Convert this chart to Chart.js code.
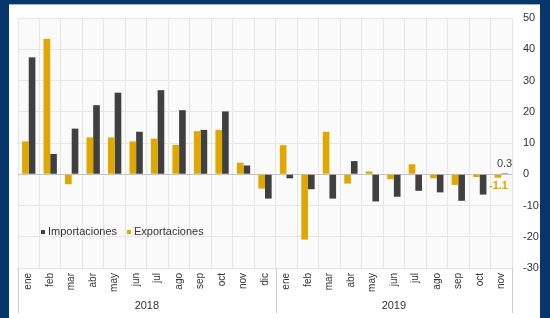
<!DOCTYPE html>
<html>
<head>
<meta charset="utf-8">
<script src="https://cdn.jsdelivr.net/npm/chart.js@4"></script>
<style>
  html, body { margin: 0; padding: 0; }
  body { width: 550px; height: 318px; background: #06366a; position: relative; overflow: hidden; }
  .panel { position: absolute; left: 9px; top: 4px; width: 531px; height: 314px; background: #fff; border-top: 1px solid #9fb3c8; box-sizing: border-box; }
  canvas { position: absolute; left: 0; top: 0; }
</style>
</head>
<body>
<div class="panel"><canvas id="chart" width="531" height="313"></canvas></div>
<script>
// --- Data ---
const months = ['ene', 'feb', 'mar', 'abr', 'may', 'jun', 'jul', 'ago', 'sep', 'oct', 'nov', 'dic',
                'ene', 'feb', 'mar', 'abr', 'may', 'jun', 'jul', 'ago', 'sep', 'oct', 'nov'];
const years = [{ label: '2018', from: 0, to: 11 }, { label: '2019', from: 12, to: 22 }];
const importaciones = [37.4, 6.5, 14.6, 22.1, 26.1, 13.6, 26.9, 20.5, 14.2, 20.1, 2.8, -7.8,
                       -1.3, -4.8, -7.8, 4.2, -8.7, -7.2, -5.3, -5.8, -8.5, -6.5, 0.3];
const exportaciones = [10.5, 43.4, -3.2, 11.8, 11.8, 10.5, 11.4, 9.4, 13.8, 14.2, 3.7, -4.6,
                       9.3, -20.9, 13.6, -3.0, 0.9, -1.6, 3.2, -1.3, -3.4, -0.9, -1.1];
const yTicks = { min: -30, max: 50, step: 10 };

const GOLD = '#dfa700';
const DARK = '#404040';
const FONT = "'Liberation Sans', Arial, sans-serif";

// plot background, legend, year row and the last-value labels
const decor = {
  id: 'decor',
  beforeDraw(chart) {
    const a = chart.chartArea, c = chart.ctx;
    c.save();
    c.fillStyle = '#fafafa';
    c.fillRect(a.left, a.top, a.right - a.left, a.bottom - a.top);
    c.restore();
  },
  afterDraw(chart) {
    const a = chart.chartArea, c = chart.ctx, x = chart.scales.x, y = chart.scales.y;
    const half = (x.getPixelForValue(1) - x.getPixelForValue(0)) / 2;
    c.save();

    // year groups below the month labels
    c.strokeStyle = '#cfcfcf';
    c.lineWidth = 1;
    const edges = [a.left, x.getPixelForValue(11) + half, a.right];
    edges.forEach(px => {
      c.beginPath();
      c.moveTo(Math.round(px) + 0.5, a.bottom);
      c.lineTo(Math.round(px) + 0.5, a.bottom + 45);
      c.stroke();
    });
    c.fillStyle = '#333';
    c.font = '11px ' + FONT;
    c.textAlign = 'center';
    c.textBaseline = 'middle';
    years.forEach(g => {
      const mid = (x.getPixelForValue(g.from) - half + x.getPixelForValue(g.to) + half) / 2;
      c.fillText(g.label, mid, a.bottom + 38);
    });

    // legend inside plot
    const ly = y.getPixelForValue(-18.5);
    const items = [
      { label: 'Importaciones', color: DARK, x: a.left + 23 },
      { label: 'Exportaciones', color: GOLD, x: a.left + 109 },
    ];
    c.font = '11px ' + FONT;
    c.textAlign = 'left';
    items.forEach(it => {
      c.fillStyle = it.color;
      c.fillRect(it.x, ly - 2, 4, 4);
      c.fillStyle = '#333';
      c.fillText(it.label, it.x + 7, ly);
    });

    // last values
    const last = months.length - 1;
    const meta0 = chart.getDatasetMeta(0).data[last];
    const meta1 = chart.getDatasetMeta(1).data[last];
    c.font = '11px ' + FONT;
    c.fillStyle = '#444';
    c.textAlign = 'center';
    c.fillText(String(importaciones[last]), meta1.x, y.getPixelForValue(importaciones[last]) - 9);
    c.font = 'bold 11px ' + FONT;
    c.fillStyle = GOLD;
    c.textAlign = 'right';
    c.fillText(String(exportaciones[last]), meta0.x + 10, y.getPixelForValue(exportaciones[last]) + 8);
    c.restore();
  }
};

new Chart(document.getElementById('chart'), {
  type: 'bar',
  data: {
    labels: months,
    datasets: [
      { label: 'Exportaciones', data: exportaciones, backgroundColor: GOLD },
      { label: 'Importaciones', data: importaciones, backgroundColor: DARK },
    ],
  },
  options: {
    responsive: false,
    animation: false,
    maintainAspectRatio: false,
    layout: { padding: { left: 9, top: 13, right: 0, bottom: 0 } },
    datasets: { bar: { categoryPercentage: 0.62, barPercentage: 1.0 } },
    plugins: { legend: { display: false }, tooltip: { enabled: false } },
    scales: {
      x: {
        grid: { color: '#e6e6e6', drawTicks: false, tickLength: 0, tickColor: 'rgba(0,0,0,0)', offset: true },
        border: { display: false },
        ticks: {
          color: '#333', font: { family: FONT, size: 10 },
          autoSkip: false, minRotation: 90, maxRotation: 90, padding: 5,
        },
        afterFit(s) { s.height = 50; s.paddingLeft = 0; s.paddingRight = 0; },
      },
      y: {
        position: 'right',
        min: yTicks.min,
        max: yTicks.max,
        grid: {
          drawTicks: false,
          tickLength: 0,
          color: ctx => ctx.tick && ctx.tick.value === 0 ? '#c4c4c4' : '#e6e6e6',
        },
        border: { display: false },
        ticks: {
          stepSize: yTicks.step, color: '#333', padding: 11,
          font: { family: FONT, size: 11 },
        },
        afterFit(s) { s.width = 28; s.paddingTop = 0; s.paddingBottom = 0; },
      },
    },
  },
  plugins: [decor],
});
</script>
</body>
</html>
